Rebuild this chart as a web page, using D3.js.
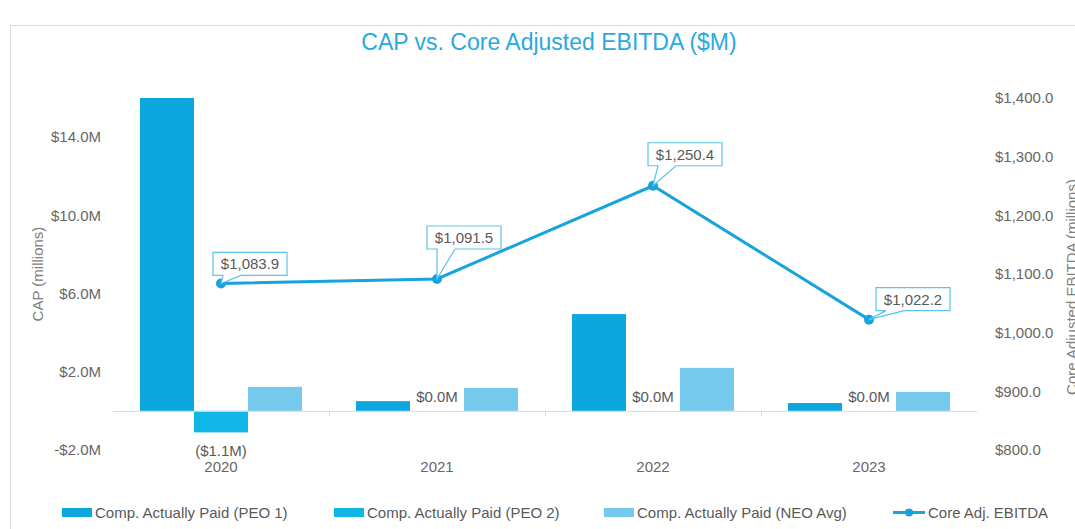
<!DOCTYPE html>
<html>
<head>
<meta charset="utf-8">
<script src="https://cdn.jsdelivr.net/npm/d3@7"></script>
<style>
  body { margin: 0; background: #fff; }
  svg { display: block; font-family: "Liberation Sans", Arial, sans-serif; }
</style>
</head>
<body>
<svg id="chart" width="1075" height="529"></svg>
<script>
// CAP vs. Core Adjusted EBITDA, grouped bars + line on a second axis

const years = ["2020", "2021", "2022", "2023"];
const seriesNames = ["Comp. Actually Paid (PEO 1)", "Comp. Actually Paid (PEO 2)", "Comp. Actually Paid (NEO Avg)"];
const peo1 = [16.0, 0.5, 4.95, 0.4];
const peo2 = [-1.1, 0.0, 0.0, 0.0];
const neoAvg = [1.23, 1.17, 2.2, 0.97];
const ebitda = [1083.9, 1091.5, 1250.4, 1022.2];
const capTicks = [-2, 2, 6, 10, 14];
const ebitdaTicks = [800, 900, 1000, 1100, 1200, 1300, 1400];
const lineName = "Core Adj. EBITDA";

const width = 1075, height = 529;
const margin = { top: 98, bottom: 450, left: 113, right: 977 };

const colors = ["#0da7e0", "#10b6e6", "#74c9ec"];
const lineColor = "#17a3dc";
const textColor = "#666";

// callout offsets relative to each point (layout only)
const callout = [
  { dx: -8, dy: -31 },
  { dx: -10, dy: -53 },
  { dx: -5, dy: -43 },
  { dx: 7, dy: -32 }
];

const svg = d3.select("#chart");

// outer frame
svg.append("rect")
  .attr("x", 10.5).attr("y", 25.5)
  .attr("width", 1100).attr("height", 600)
  .attr("fill", "none").attr("stroke", "#dcdcdc");

const x = d3.scaleBand().domain(years).range([margin.left, margin.right]);
const xi = d3.scaleBand().domain(d3.range(3)).range([0, x.bandwidth()])
  .paddingInner(0).paddingOuter(0.5);
const yL = d3.scaleLinear().domain([-2, 16]).range([margin.bottom, margin.top]);
const yR = d3.scaleLinear().domain([800, 1400]).range([margin.bottom, margin.top]);

// title
svg.append("text")
  .attr("x", 549).attr("y", 50)
  .attr("text-anchor", "middle")
  .style("font-size", "23px")
  .style("fill", "#29a9e0")
  .text("CAP vs. Core Adjusted EBITDA ($M)");

// left axis labels
svg.append("g").selectAll("text")
  .data(capTicks)
  .join("text")
  .attr("x", 101)
  .attr("y", d => yL(d))
  .attr("dy", "0.35em")
  .attr("text-anchor", "end")
  .style("font-size", "15px")
  .style("fill", textColor)
  .text(d => (d < 0 ? "-" : "") + "$" + d3.format(".1f")(Math.abs(d)) + "M");

// right axis labels
svg.append("g").selectAll("text")
  .data(ebitdaTicks)
  .join("text")
  .attr("x", 995)
  .attr("y", d => yR(d))
  .attr("dy", "0.35em")
  .style("font-size", "15px")
  .style("fill", textColor)
  .text(d => "$" + d3.format(",.1f")(d));

// axis titles
svg.append("text")
  .attr("transform", `translate(43,${274}) rotate(-90)`)
  .attr("text-anchor", "middle")
  .style("font-size", "15px")
  .style("fill", "#808080")
  .text("CAP (millions)");

svg.append("text")
  .attr("transform", `translate(1077,${287}) rotate(-90)`)
  .attr("text-anchor", "middle")
  .style("font-size", "15px")
  .style("fill", "#808080")
  .text("Core Adjusted EBITDA (millions)");

// bars
const barData = years.flatMap((yr, i) =>
  [peo1[i], peo2[i], neoAvg[i]].map((v, s) => ({ yr, s, v })));

svg.append("g").selectAll("rect")
  .data(barData)
  .join("rect")
  .attr("x", d => x(d.yr) + xi(d.s))
  .attr("width", xi.bandwidth())
  .attr("y", d => yL(Math.max(0, d.v)))
  .attr("height", d => Math.abs(yL(d.v) - yL(0)))
  .attr("fill", d => colors[d.s]);

// zero baseline and category ticks
svg.append("line")
  .attr("x1", margin.left).attr("x2", margin.right)
  .attr("y1", yL(0) + 0.5).attr("y2", yL(0) + 0.5)
  .attr("stroke", "#d9d9d9");

svg.append("g").selectAll("line")
  .data(years.slice(1))
  .join("line")
  .attr("x1", d => x(d) + 0.5).attr("x2", d => x(d) + 0.5)
  .attr("y1", yL(0)).attr("y2", yL(0) + 5)
  .attr("stroke", "#d9d9d9");

// year labels
svg.append("g").selectAll("text")
  .data(years)
  .join("text")
  .attr("x", d => x(d) + x.bandwidth() / 2)
  .attr("y", 472)
  .attr("text-anchor", "middle")
  .style("font-size", "15px")
  .style("fill", textColor)
  .text(d => d);

// PEO 2 value labels
svg.append("g").selectAll("text")
  .data(peo2)
  .join("text")
  .attr("x", (d, i) => x(years[i]) + xi(1) + xi.bandwidth() / 2)
  .attr("y", d => d < 0 ? yL(d) + 24 : yL(0) - 9)
  .attr("text-anchor", "middle")
  .style("font-size", "15px")
  .style("fill", "#595959")
  .text(d => d < 0 ? `($${d3.format(".1f")(-d)}M)` : `$${d3.format(".1f")(d)}M`);

// EBITDA line
const pts = ebitda.map((v, i) => ({ x: x(years[i]) + x.bandwidth() / 2, y: yR(v), v }));

svg.append("path")
  .datum(pts)
  .attr("fill", "none")
  .attr("stroke", lineColor)
  .attr("stroke-width", 3)
  .attr("d", d3.line().x(d => d.x).y(d => d.y));

svg.append("g").selectAll("circle")
  .data(pts)
  .join("circle")
  .attr("cx", d => d.x).attr("cy", d => d.y)
  .attr("r", 5)
  .attr("fill", lineColor);

// callouts
const bw = 74, bh = 23;
const co = svg.append("g").selectAll("g")
  .data(pts)
  .join("g");

co.append("path")
  .attr("fill", "#fff")
  .attr("stroke", "#5cc3ec")
  .attr("stroke-width", 1.2)
  .attr("d", (d, i) => {
    const l = d.x + callout[i].dx, t = d.y + callout[i].dy;
    const b = t + bh, r = l + bw;
    return `M${l},${t}H${r}V${b}H${l + 28}L${d.x},${d.y}L${l + 10},${b}H${l}Z`;
  });

co.append("text")
  .attr("x", (d, i) => d.x + callout[i].dx + bw / 2)
  .attr("y", (d, i) => d.y + callout[i].dy + bh / 2)
  .attr("dy", "0.36em")
  .attr("text-anchor", "middle")
  .style("font-size", "15px")
  .style("fill", "#595959")
  .text(d => "$" + d3.format(",.1f")(d.v));

// legend
const legendX = [62, 334, 604];
const legend = svg.append("g");
seriesNames.forEach((name, i) => {
  legend.append("rect")
    .attr("x", legendX[i]).attr("y", 508)
    .attr("width", 30).attr("height", 9)
    .attr("fill", colors[i]);
  legend.append("text")
    .attr("x", legendX[i] + 33).attr("y", 513)
    .attr("dy", "0.35em")
    .style("font-size", "15px")
    .style("fill", "#595959")
    .text(name);
});
legend.append("line")
  .attr("x1", 893).attr("x2", 925)
  .attr("y1", 512.5).attr("y2", 512.5)
  .attr("stroke", lineColor).attr("stroke-width", 3);
legend.append("circle")
  .attr("cx", 909).attr("cy", 512.5).attr("r", 4)
  .attr("fill", lineColor);
legend.append("text")
  .attr("x", 928).attr("y", 513)
  .attr("dy", "0.35em")
  .style("font-size", "15px")
  .style("fill", "#595959")
  .text(lineName);
</script>
</body>
</html>
